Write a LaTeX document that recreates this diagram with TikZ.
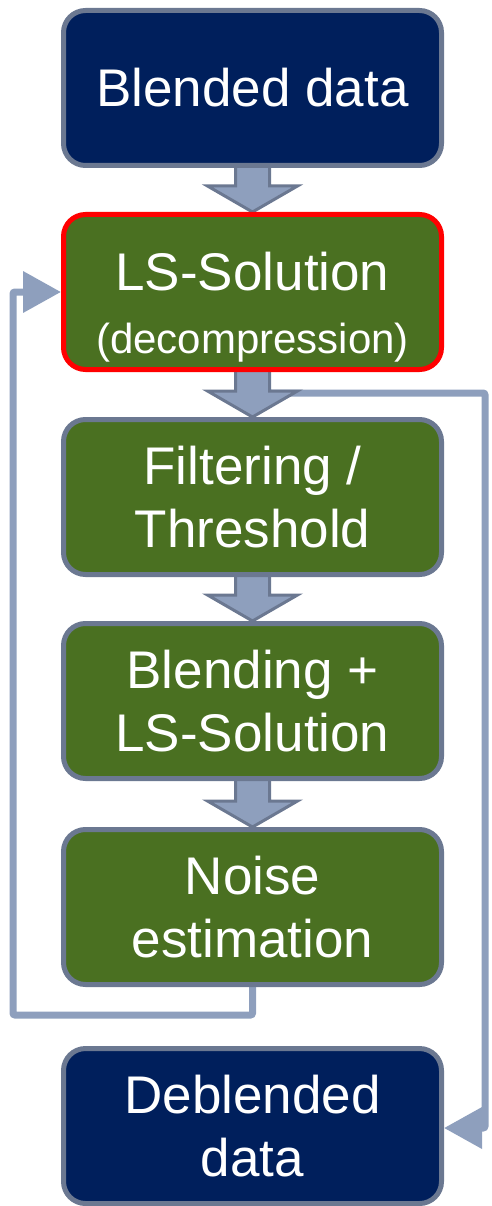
\documentclass[tikz,border=0pt]{standalone}
\usepackage{fontspec}
\setmainfont{Liberation Sans}
\usetikzlibrary{arrows.meta,calc,backgrounds}

\definecolor{navyfill}{HTML}{001F5C}
\definecolor{stepgreen}{HTML}{4A7021}
\definecolor{edgegrey}{HTML}{6B7891}
\definecolor{flowblue}{HTML}{8E9FBD}
\definecolor{hilite}{HTML}{FF0000}

\tikzset{
  box/.style={rectangle, rounded corners=22pt, line width=5pt, draw=edgegrey,
    minimum width=378pt, minimum height=155pt, inner sep=0pt, align=center,
    text=white, font=\fontsize{53}{63}\selectfont},
  databox/.style={box, fill=navyfill},
  stepbox/.style={box, fill=stepgreen},
  bigarrow/.style={fill=flowblue, draw=edgegrey, line width=3pt, line join=miter},
  loopline/.style={draw=flowblue, line width=7pt, rounded corners=2pt,
    -{Triangle[length=38pt,width=40pt]}},
}

% thick block arrow from the bottom of #1 to the top of #2
\newcommand{\blockarrow}[2]{%
  \draw[bigarrow]
    ($(#1.south)+(-17,-4)$) -- ($(#2.north)+(-17,-26)$) -- ($(#2.north)+(-45,-26)$)
    -- (#2.north) -- ($(#2.north)+(45,-26)$) -- ($(#2.north)+(17,-26)$)
    -- ($(#1.south)+(17,-4)$);%
}

\begin{document}
\begin{tikzpicture}[x=1pt,y=-1pt]
  \useasboundingbox (0,0) rectangle (492,1206);

  % the process boxes
  \node[databox] (blend) at (252.5,88) {Blended data};
  \node[stepbox, draw=hilite] (ls) at (252.5,292)
    {\rule{0pt}{68pt}LS-Solution\\{\fontsize{42}{48}\selectfont(decompression)}};
  \node[stepbox] (filt) at (252.5,497) {Filtering /\\Threshold};
  \node[stepbox] (bls) at (252.5,701) {Blending +\\LS-Solution};
  \node[stepbox] (noise) at (252.5,907) {Noise\\estimation};
  \node[databox] (deb) at (252.5,1126) {Deblended\\data};

  \begin{scope}[on background layer]
    % feedback loop back into the LS solution
    \coordinate (fbcorner) at (13,1015);
    \draw[loopline] (noise.south) |- (fbcorner) |- (ls.west);

    % output branch to the deblended data
    \coordinate (outstart) at ($(ls.south)+(15,21)$);
    \coordinate (outcorner) at (485,1128);
    \draw[loopline] (outstart) -| (outcorner) -- (deb.east |- outcorner);

    % main flow arrows
    \blockarrow{blend}{ls}
    \blockarrow{ls}{filt}
    \blockarrow{filt}{bls}
    \blockarrow{bls}{noise}
  \end{scope}
\end{tikzpicture}
\end{document}
